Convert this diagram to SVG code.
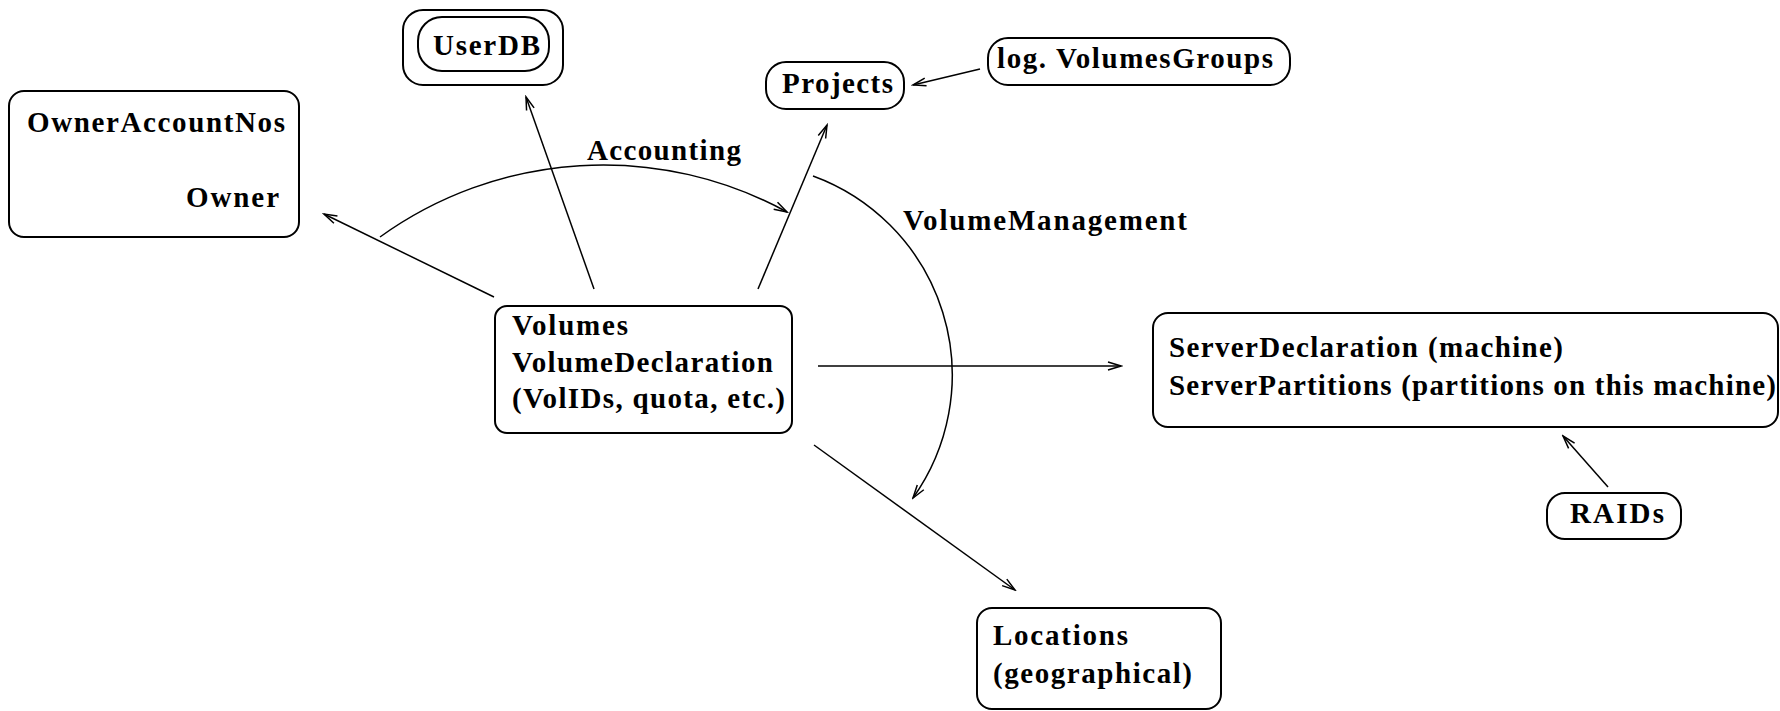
<svg xmlns="http://www.w3.org/2000/svg" width="1780" height="711" viewBox="0 0 1780 711">
<style>
.box{fill:none;stroke:#000;stroke-width:2}
.t{font-family:"Liberation Serif","Times New Roman",serif;font-weight:bold;font-size:29px;fill:#000}
.c{fill:none;stroke:#000;stroke-width:1.5}
</style>
<defs>
<marker id="ah" markerWidth="16" markerHeight="12" refX="14" refY="6" orient="auto" markerUnits="userSpaceOnUse">
<path d="M1,2 L14,6 L1,10" fill="none" stroke="#000" stroke-width="1.5"/>
</marker>
</defs>
<rect width="1780" height="711" fill="#fff"/>
<g id="connectors">
<line class="c" x1="494" y1="297" x2="324" y2="214" marker-end="url(#ah)"/>
<line class="c" x1="594" y1="289" x2="526" y2="97" marker-end="url(#ah)"/>
<line class="c" x1="758" y1="289" x2="827" y2="125" marker-end="url(#ah)"/>
<line class="c" x1="980" y1="69" x2="913" y2="85" marker-end="url(#ah)"/>
<line class="c" x1="818" y1="366" x2="1121" y2="366" marker-end="url(#ah)"/>
<line class="c" x1="814" y1="445" x2="1015" y2="590" marker-end="url(#ah)"/>
<line class="c" x1="1608" y1="487" x2="1563" y2="436" marker-end="url(#ah)"/>
<path class="c" d="M380,237 A382,382 0 0 1 787,212" marker-end="url(#ah)"/>
<path class="c" d="M813,176 A212,212 0 0 1 913,498" marker-end="url(#ah)"/>
<text class="t" x="587" y="160" textLength="154" lengthAdjust="spacing">Accounting</text>
<text class="t" x="903" y="230" textLength="284" lengthAdjust="spacing">VolumeManagement</text>
</g>
<g id="owner">
<rect class="box" x="9" y="91" width="290" height="146" rx="15"/>
<text class="t" x="27" y="132" textLength="258" lengthAdjust="spacing">OwnerAccountNos</text>
<text class="t" x="186" y="207" textLength="93" lengthAdjust="spacing">Owner</text>
</g>
<g id="userdb">
<rect class="box" x="403" y="10" width="160" height="75" rx="20"/>
<rect class="box" x="418" y="17" width="131" height="54" rx="24"/>
<text class="t" x="433" y="55" textLength="107" lengthAdjust="spacing">UserDB</text>
</g>
<g id="projects">
<rect class="box" x="766" y="62" width="138" height="47" rx="20"/>
<text class="t" x="782" y="93" textLength="111" lengthAdjust="spacing">Projects</text>
</g>
<g id="volumegroups">
<rect class="box" x="988" y="38" width="302" height="47" rx="20"/>
<text class="t" x="997" y="68" textLength="276" lengthAdjust="spacing">log. VolumesGroups</text>
</g>
<g id="volumes">
<rect class="box" x="495" y="306" width="297" height="127" rx="12"/>
<text class="t" x="512" y="335" textLength="116" lengthAdjust="spacing">Volumes</text>
<text class="t" x="512" y="372" textLength="261" lengthAdjust="spacing">VolumeDeclaration</text>
<text class="t" x="512" y="408" textLength="273" lengthAdjust="spacing">(VolIDs, quota, etc.)</text>
</g>
<g id="server">
<rect class="box" x="1153" y="313" width="625" height="114" rx="15"/>
<text class="t" x="1169" y="357" textLength="394" lengthAdjust="spacing">ServerDeclaration (machine)</text>
<text class="t" x="1169" y="395" textLength="607" lengthAdjust="spacing">ServerPartitions (partitions on this machine)</text>
</g>
<g id="raids">
<rect class="box" x="1547" y="493" width="134" height="46" rx="18"/>
<text class="t" x="1570" y="523" textLength="94" lengthAdjust="spacing">RAIDs</text>
</g>
<g id="locations">
<rect class="box" x="977" y="608" width="244" height="101" rx="15"/>
<text class="t" x="993" y="645" textLength="135" lengthAdjust="spacing">Locations</text>
<text class="t" x="993" y="683" textLength="199" lengthAdjust="spacing">(geographical)</text>
</g>
</svg>
